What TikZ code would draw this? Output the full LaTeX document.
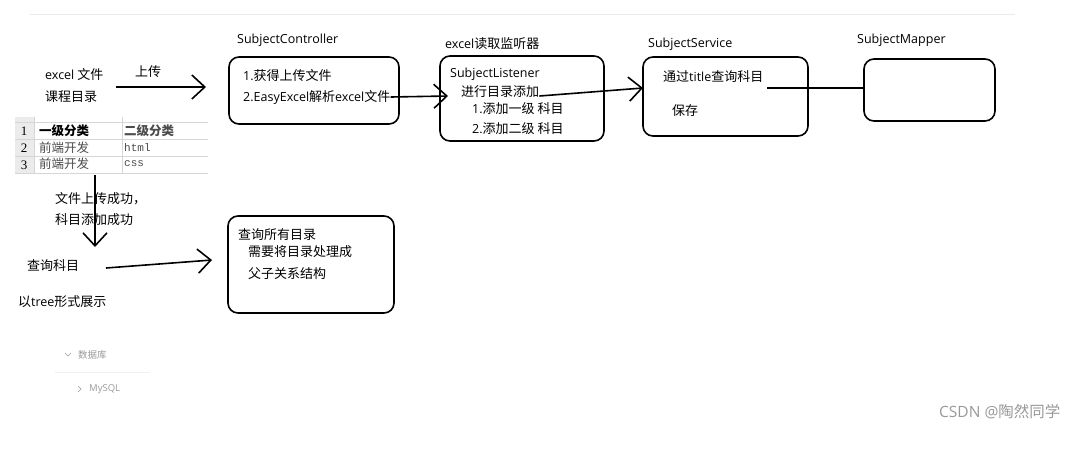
\documentclass[tikz,border=0pt]{standalone}
\usepackage{fontspec}
\setmainfont{Noto Sans CJK SC}
\newfontfamily\latf{Open Sans}
\newfontfamily\monof{Liberation Mono}
\newfontfamily\seriff{Liberation Serif}
\newcommand\la[1]{{\latf\fontsize{12.5}{14}\selectfont #1}}
\usetikzlibrary{arrows.meta}
\definecolor{gridgray}{HTML}{D6D6D6}
\definecolor{cellgray}{HTML}{EBEBEB}
\definecolor{faint}{HTML}{9A9A9A}
\tikzset{
  box/.style={draw, line width=1.6pt, rounded corners=10pt, inner sep=0pt},
  txt/.style={anchor=west, inner sep=0pt, font=\fontsize{13}{15}\selectfont},
  cell/.style={anchor=west, inner sep=0pt, font=\fontsize{12.5}{14}\selectfont},
  arr/.style={line width=1.6pt, -{Straight Barb[length=13pt,width=24pt,line width=1.6pt]}},
  link/.style={line width=1.6pt},
}
\begin{document}
\begin{tikzpicture}[x=1pt,y=-1pt]
  \useasboundingbox[fill=white] (0,0) rectangle (1082,451);
  \draw[black!8] (30,14) -- (1015,14);
  \node[box, minimum width=170pt, minimum height=67pt] (ctrl) at (314,90.5) {};
  \node[box, minimum width=164pt, minimum height=85pt] (lsn) at (522,98.5) {};
  \node[box, minimum width=165pt, minimum height=79pt] (svc) at (725.5,96.5) {};
  \node[box, minimum width=131pt, minimum height=62pt] (mapper) at (929.5,90) {};
  \node[box, minimum width=166pt, minimum height=97pt] (alltree) at (311,264.5) {};
  \node[txt] (ctrlname) at (237,40) {\la{SubjectController}};
  \node[txt] (lsnname) at (445,44) {\la{excel}读取监听器};
  \node[txt] (svcname) at (648,44) {\la{SubjectService}};
  \node[txt] (mapname) at (857,40) {\la{SubjectMapper}};
  \node[txt] (getfile) at (243,76) {\la{1.}获得上传文件};
  \node[txt] (parse) at (243,97) {\la{2.EasyExcel}解析\la{excel}文件};
  \node[txt] (lsnid) at (450,74) {\la{SubjectListener}};
  \node[txt] (addcat) at (461,92) {进行目录添加};
  \node[txt] (addone) at (472,109) {\la{1.}添加一级 科目};
  \node[txt] (addtwo) at (472,129) {\la{2.}添加二级 科目};
  \node[txt] (query) at (663,77) {通过\la{title}查询科目};
  \node[txt] (save) at (672,111) {保存};
  \node[txt] (allcat) at (238,235) {查询所有目录};
  \node[txt] (needs) at (248,252) {需要将目录处理成};
  \node[txt] (parent) at (248,274) {父子关系结构};
  \node[txt] (file) at (45,75) {\la{excel} 文件};
  \node[txt] (course) at (45,97) {课程目录};
  \node[txt] (upload) at (135,72) {上传};
  \node[txt] (okfile) at (55,199) {文件上传成功，};
  \node[txt] (oksub) at (55,220) {科目添加成功};
  \node[txt] (ask) at (27,266) {查询科目};
  \node[txt] (show) at (18,302) {以\la{tree}形式展示};
  \fill[cellgray] (15,117) rectangle (34,173);
  \foreach \y in {122,139,156,173} \draw[gridgray] (15,\y) -- (208,\y);
  \foreach \x in {34,122} \draw[gridgray] (\x,117) -- (\x,173);
  \foreach \n [count=\i] in {1,2,3} {
    \node[cell, anchor=center, font=\seriff\fontsize{13}{14}\selectfont] (num\i) at (24,114+17*\i) {\n};
  }
  \node[cell, font=\bfseries\fontsize{12.5}{14}\selectfont] (headone) at (39,131) {一级分类};
  \node[cell, font=\bfseries\fontsize{12.5}{14}\selectfont, text=black!70] (headtwo) at (124,131) {二级分类};
  \node[cell, text=black!70] (rowa) at (39,148) {前端开发};
  \node[cell, text=black!70, font=\monof\fontsize{11}{12}\selectfont] (rowah) at (124,148) {html};
  \node[cell, text=black!70] (rowb) at (39,164) {前端开发};
  \node[cell, text=black!70, font=\monof\fontsize{11}{12}\selectfont] (rowbc) at (124,164) {css};
  \coordinate (upa) at (116,87);
  \coordinate (upb) at (206,87);
  \coordinate (lsnin) at (448,96);
  \coordinate (svcin) at (643,88);
  \coordinate (mapout) at (767,88);
  \coordinate (downa) at (95,175);
  \coordinate (downb) at (95,247);
  \coordinate (aska) at (106,268);
  \coordinate (askb) at (212,260);
  \draw[arr] (upa) -- (upb);
  \draw[arr] (parse.east) -- (lsnin);
  \draw[arr] ([yshift=-4pt]addcat.east) -- (svcin);
  \draw[link] (mapout) -- (mapper.west |- mapout);
  \draw[arr] (downa) -- (downb);
  \draw[arr] (aska) -- (askb);
  \draw[faint, line width=0.6pt] (65,353) -- (68,356) -- (71,353);
  \node[cell, text=faint, font=\fontsize{9.5}{11}\selectfont] (db) at (78,355) {数据库};
  \draw[black!6] (55,372) -- (150,372);
  \draw[faint, line width=0.6pt] (78,386) -- (81,389) -- (78,392);
  \node[cell, text=faint, font=\latf\fontsize{9.5}{11}\selectfont] (mysql) at (89,389) {MySQL};
  \node[txt, text=black!40, font=\fontsize{15.5}{17}\selectfont] (mark) at (939,412) {{\latf CSDN @}陶然同学};
\end{tikzpicture}
\end{document}
